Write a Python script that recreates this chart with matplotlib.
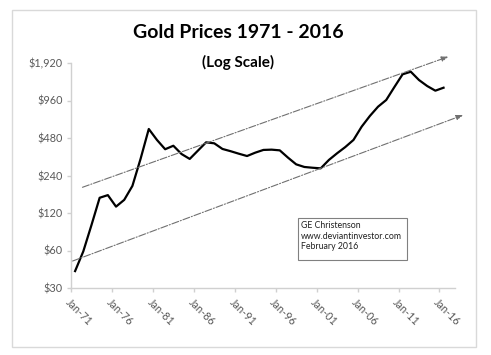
import matplotlib.pyplot as plt
import matplotlib.transforms as mtransforms
from matplotlib.patches import Rectangle

plt.rcParams['font.family'] = ['Lato', 'DejaVu Sans']

# annual gold price (log scale)
years = list(range(1971, 2017))
prices = [41, 59, 96, 159, 167, 135, 153, 198, 327, 567,
          463, 390, 416, 357, 326, 380, 443, 435, 392, 376,
          359, 344, 366, 385, 387, 382, 334, 295, 281, 277,
          274, 320, 362, 406, 463, 592, 721, 856, 969, 1232,
          1558, 1634, 1402, 1255, 1151, 1216]
y_ticks = [30, 60, 120, 240, 480, 960, 1920]
x_tick_labels = ['Jan-71', 'Jan-76', 'Jan-81', 'Jan-86', 'Jan-91',
                 'Jan-96', 'Jan-01', 'Jan-06', 'Jan-11', 'Jan-16']
note_lines = ['GE Christenson', 'www.deviantinvestor.com', 'February 2016']

# trend channel (start index, start price) -> (end index, end price)
upper_trend = ((0.9, 193), (45.6, 2160))
lower_trend = ((-0.3, 49.4), (47.4, 734))

W, H = 491, 355
fig = plt.figure(figsize=(W / 100, H / 100), dpi=100)
fig.patch.set_facecolor('white')

# outer chart border
fig.patches.append(Rectangle((12 / W, 1 - 347 / H), 464 / W, 337 / H,
                             transform=fig.transFigure, fill=False,
                             edgecolor='#d9d9d9', linewidth=1.0))

ax = fig.add_axes([71 / W, 1 - 288 / H, 384 / W, 225 / H])
idx = list(range(len(years)))
ax.plot(idx, prices, color='black', linewidth=1.6, solid_joinstyle='round')

ax.set_yscale('log', base=2)
ax.set_ylim(30, 1920)
ax.set_yticks(y_ticks)
ax.set_yticklabels([f'${v:,}' for v in y_ticks])
ax.minorticks_off()
ax.set_xlim(-0.5, 46.4)
ax.set_xticks([i * 5 - 0.5 for i in range(len(x_tick_labels))])
ax.set_xticklabels(x_tick_labels, rotation=-45, ha='left', va='top',
                   rotation_mode='anchor')
shift = mtransforms.ScaledTranslation(4 / 100, 0, fig.dpi_scale_trans)
for lab in ax.get_xticklabels():
    lab.set_transform(lab.get_transform() + shift)

for s in ['top', 'right']:
    ax.spines[s].set_visible(False)
for s in ['left', 'bottom']:
    ax.spines[s].set_color('#d0d0d0')
    ax.spines[s].set_linewidth(1.0)
ax.tick_params(axis='both', colors='#d0d0d0', length=3, width=1.0,
               labelcolor='#595959', labelsize=7.8)
ax.tick_params(axis='y', pad=3)
ax.tick_params(axis='x', pad=3)

for (x0, y0), (x1, y1) in [upper_trend, lower_trend]:
    ax.annotate('', xy=(x1, y1), xytext=(x0, y0), annotation_clip=False,
                arrowprops=dict(arrowstyle='-|>,head_length=0.4,head_width=0.15',
                                color='#707070', linestyle='-.', linewidth=0.8,
                                shrinkA=0, shrinkB=0))

fig.text(238 / W, 1 - 33 / H, 'Gold Prices 1971 - 2016', ha='center',
         va='center', fontsize=14, fontweight='bold', color='black')
fig.text(238 / W, 1 - 62 / H, '(Log Scale)', ha='center', va='center',
         fontsize=11, fontweight='bold', color='black')

fig.patches.append(Rectangle((298 / W, 1 - 260 / H), 109 / W, 42 / H,
                             transform=fig.transFigure, fill=False,
                             edgecolor='#808080', linewidth=0.8))
for k, line in enumerate(note_lines):
    fig.text(301 / W, 1 - (226 + 10.2 * k) / H, line, ha='left', va='center',
             fontsize=6.3, color='#202020')

fig.savefig('out.png', dpi=100)
